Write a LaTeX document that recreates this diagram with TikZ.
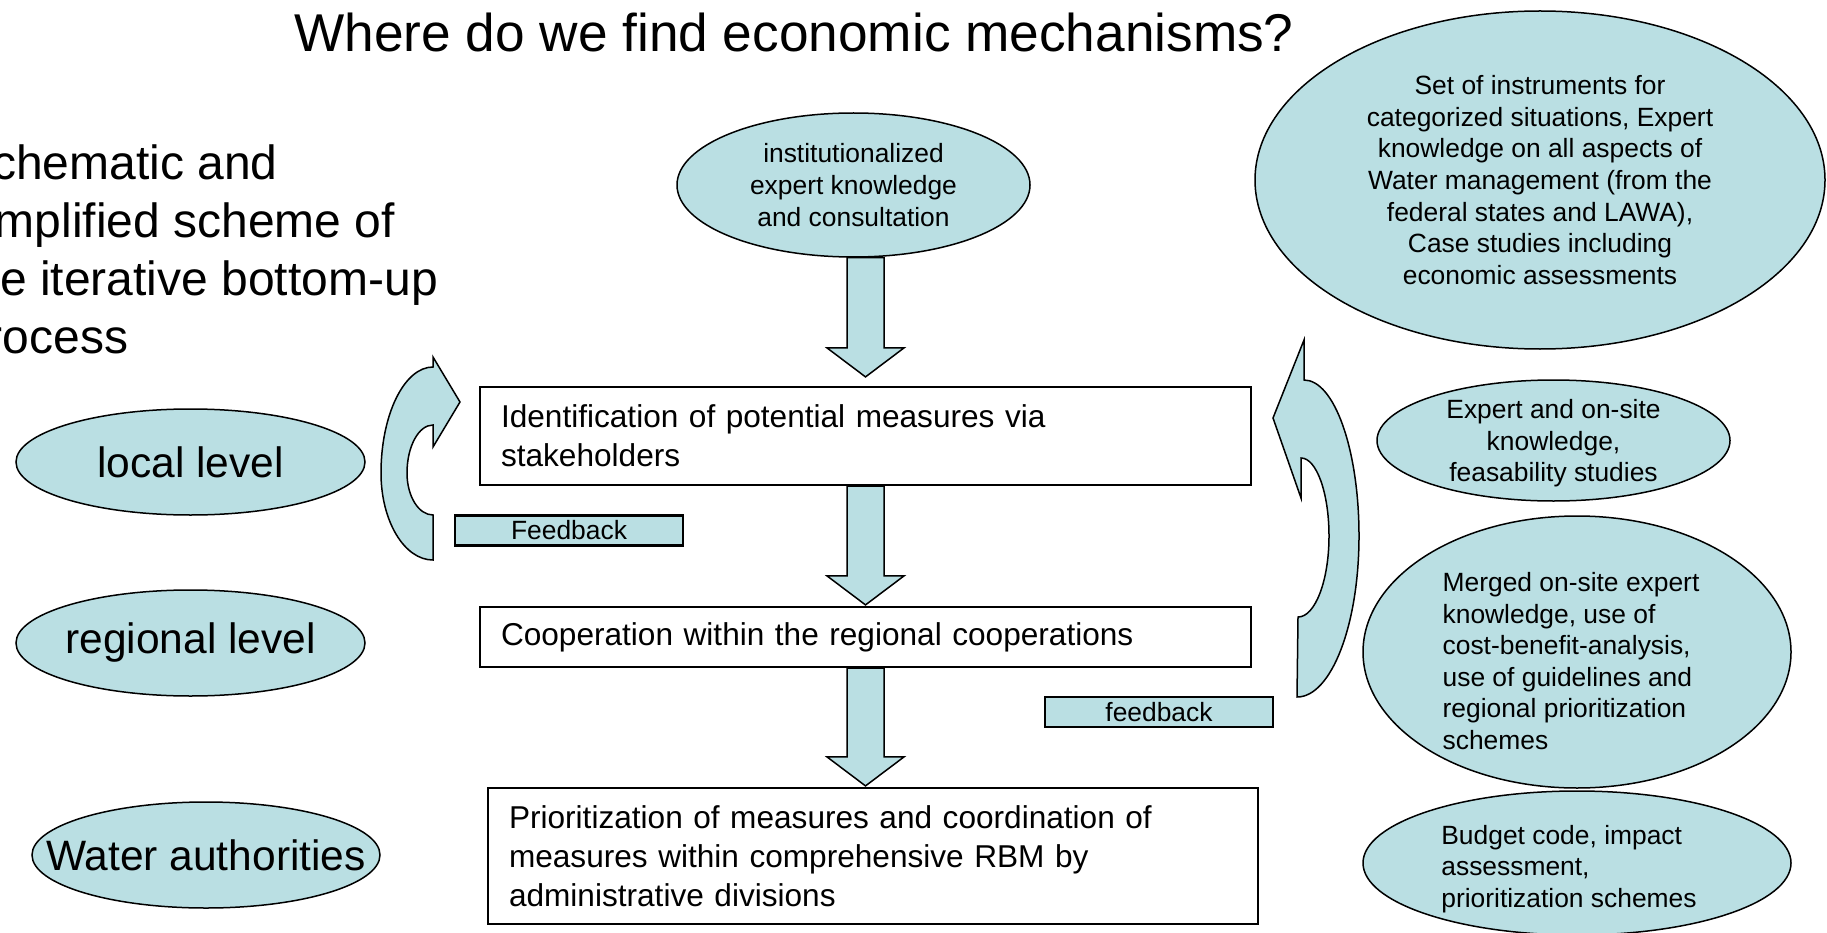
\documentclass[tikz,border=0pt]{standalone}
\usepackage{fontspec}
\setmainfont{Liberation Sans}
\usetikzlibrary{shapes.geometric,calc}

\definecolor{paleteal}{RGB}{186,223,227}

% type sizes (1 unit = 1pt)
\newcommand{\TitleSize}{\fontsize{53.2}{64}\selectfont}
\newcommand{\LeadSize}{\fontsize{48}{58}\selectfont}
\newcommand{\BoxSize}{\fontsize{31.6}{39}\selectfont}
\newcommand{\LevelSize}{\fontsize{42.5}{51}\selectfont}
\newcommand{\NoteSize}{\fontsize{26.4}{31.6}\selectfont}

\tikzset{
  bubble/.style={ellipse, draw=black, line width=1.5pt, fill=paleteal,
                 inner sep=-12pt, align=center, font=\NoteSize},
  levelbubble/.style={bubble, inner xsep=-45pt, font=\LevelSize},
  notetext/.style={inner sep=0pt, font=\NoteSize},
  stagebox/.style={rectangle, draw=black, line width=2.2pt, fill=white,
                   inner xsep=21pt, inner ysep=0pt, align=left, font=\BoxSize},
  tagbox/.style={rectangle, draw=black, line width=2.2pt, fill=paleteal,
                 inner sep=0pt, minimum width=228pt, minimum height=30pt, font=\NoteSize},
  blockarrow/.style={draw=black, line width=1.5pt, fill=paleteal, line join=miter},
}

% broad downward block arrow: shaft starts at #1, tip lands on #2
\newcommand{\blockdown}[2]{%
  \draw[blockarrow] let \p1=#1, \p2=#2 in
    (\x2-18.5pt,\y1) -- (\x2+18.5pt,\y1) -- (\x2+18.5pt,\y2+29pt)
    -- (\x2+38.5pt,\y2+29pt) -- (\x2,\y2) -- (\x2-38.5pt,\y2+29pt)
    -- (\x2-18.5pt,\y2+29pt) -- cycle;}

\begin{document}
\begin{tikzpicture}[x=1pt,y=-1pt]
\useasboundingbox (0,0) rectangle (1827,933);
\clip (0,0) rectangle (1827,933);

% headings
\node[anchor=base, font=\TitleSize, inner sep=0pt] (title) at (794,52)
  {Where do we find economic mechanisms?};
\node[anchor=base west, align=left, font=\LeadSize, inner sep=0pt] (lead) at (-40,353)
  {Schematic and\\simplified scheme of\\the iterative bottom-up\\process};

% levels
\node[levelbubble, minimum width=349pt, minimum height=106pt] (local) at (190.5,462) {local level};
\node[levelbubble, minimum width=349pt, minimum height=106pt] (regional) at (190.5,643) {regional level};
\node[levelbubble, minimum width=348pt, minimum height=106pt] (wauth) at (206,855) {Water authorities};

% process steps
\node[stagebox, text width=729pt, minimum height=98pt] (b1) at (865.5,436)
  {Identification of potential measures via\\stakeholders};
\node[stagebox, text width=729pt, minimum height=60pt] (b2) at (865.5,637)
  {Cooperation within the regional cooperations};
\node[stagebox, text width=728pt, minimum height=136pt] (b3) at (873,856)
  {Prioritization of measures and coordination of\\measures within comprehensive RBM by\\administrative divisions};

% knowledge sources
\node[bubble, minimum width=353pt, minimum height=144pt] (inst) at (853.5,185)
  {institutionalized\\expert knowledge\\and consultation};
\node[bubble, minimum width=570pt, minimum height=338pt] (tools) at (1540,180)
  {Set of instruments for\\categorized situations, Expert\\knowledge on all aspects of\\Water management (from the\\federal states and LAWA),\\Case studies including\\economic assessments};
\node[bubble, minimum width=353pt, minimum height=121pt] (onsite) at (1553.5,440.5) {};
\node[notetext, align=center] (onsitetext) at ($(onsite.center)+(0,3)$)
  {Expert and on-site\\knowledge,\\feasability studies};
\node[bubble, minimum width=428pt, minimum height=272pt] (merged) at (1577,652) {};
\node[notetext, align=left] (mergedtext) at ($(merged.center)+(-6,9)$)
  {Merged on-site expert\\knowledge, use of\\cost-benefit-analysis,\\use of guidelines and\\regional prioritization\\schemes};
\node[bubble, minimum width=428pt, minimum height=144pt] (budget) at (1577,863) {};
\node[notetext, align=left] (budgettext) at ($(budget.center)+(-8,6)$)
  {Budget code, impact\\assessment,\\prioritization schemes};

% feedback tags
\node[tagbox] (fb1) at (569,530.5) {Feedback};
\node[tagbox] (fb2) at (1159,712) {feedback};

% downward flow between the steps
\blockdown{(b1.north |- inst.south)}{($(b1.north)+(0,-9)$)}
\blockdown{(b1.south)}{($(b2.north)+(0,-1)$)}
\blockdown{(b2.south)}{($(b2.south |- b3.north)+(0,-1)$)}

% local feedback loop
\draw[blockarrow]
  (433,560) .. controls (404.3,560) and (381,521) .. (381,473)
  .. controls (381,414.5) and (404.3,367) .. (433,367)
  -- (433,357) -- (460,402) -- (433,447) -- (433,425)
  .. controls (418.6,425) and (407,446.5) .. (407,473)
  .. controls (407,496.2) and (418.6,515) .. (433,515) -- cycle;

% regional feedback loop
\draw[blockarrow]
  (1297,697) .. controls (1331.2,697) and (1359,624.9) .. (1359,536)
  .. controls (1359,449.8) and (1334.4,380) .. (1304,380)
  -- (1304,340) -- (1273,418) -- (1301,498) -- (1301,458)
  .. controls (1316.5,458) and (1329,492.9) .. (1329,536)
  .. controls (1329,580.7) and (1315.1,617) .. (1298,617) -- cycle;
\end{tikzpicture}
\end{document}
